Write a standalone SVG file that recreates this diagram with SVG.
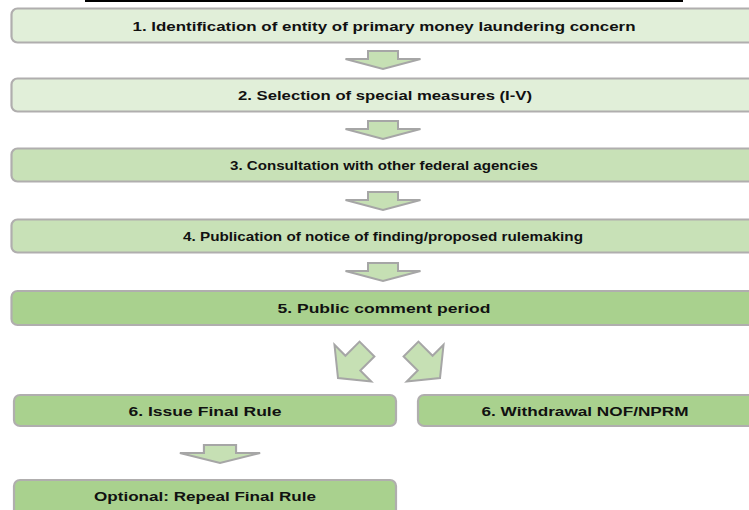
<svg xmlns="http://www.w3.org/2000/svg" width="749" height="510" viewBox="0 0 749 510">
<style>
.box{stroke:#b0aeae;stroke-width:2.2}
.l1{fill:#e1efd9}
.l2{fill:#c8e1b7}
.l3{fill:#a9d18e}
.arr{fill:#c6e0b4;stroke:#a6a6a6;stroke-width:2;stroke-linejoin:miter}
text{font-family:"Liberation Sans",Arial,sans-serif;font-weight:bold;font-size:13.5px;fill:#111;text-anchor:middle}
</style>
<defs>
<path id="down" d="M-15,-18 L15,-18 L15,-10 L37.5,-10 L0,0 L-37.5,-10 L-15,-10 Z"/>
<path id="diag" d="M-10.5,-41 L10.5,-41 L10.5,-21 L26,-21 L0,0 L-26,-21 L-10.5,-21 Z"/>
</defs>
<line x1="85" y1="1" x2="683" y2="1" stroke="#000" stroke-width="2"/>
<g id="connectors">
<use href="#down" class="arr" transform="translate(383,69)"/>
<use href="#down" class="arr" transform="translate(383,139)"/>
<use href="#down" class="arr" transform="translate(383,210)"/>
<use href="#down" class="arr" transform="translate(383,281)"/>
<use href="#diag" class="arr" transform="translate(338,378) rotate(45)"/>
<use href="#diag" class="arr" transform="translate(440,378) rotate(-45)"/>
<use href="#down" class="arr" transform="translate(220,463) scale(1.07,1)"/>
</g>
<g id="n1"><rect class="box l1" x="11.5" y="8.5" width="750" height="34" rx="6"/><text x="384" y="30.5" textLength="503" lengthAdjust="spacingAndGlyphs">1. Identification of entity of primary money laundering concern</text></g>
<g id="n2"><rect class="box l1" x="11.5" y="78.5" width="750" height="33" rx="6"/><text x="385" y="100" textLength="294" lengthAdjust="spacingAndGlyphs">2. Selection of special measures (I-V)</text></g>
<g id="n3"><rect class="box l2" x="11.5" y="148.5" width="750" height="33" rx="6"/><text x="384" y="170" textLength="308" lengthAdjust="spacingAndGlyphs">3. Consultation with other federal agencies</text></g>
<g id="n4"><rect class="box l2" x="11.5" y="219.5" width="750" height="33" rx="6"/><text x="383" y="241" textLength="400" lengthAdjust="spacingAndGlyphs">4. Publication of notice of finding/proposed rulemaking</text></g>
<g id="n5"><rect class="box l3" x="11.5" y="291" width="750" height="34" rx="6"/><text x="384" y="312.5" textLength="213" lengthAdjust="spacingAndGlyphs">5. Public comment period</text></g>
<g id="n6a"><rect class="box l3" x="14" y="395" width="382" height="31" rx="6"/><text x="205" y="415.5" textLength="153" lengthAdjust="spacingAndGlyphs">6. Issue Final Rule</text></g>
<g id="n6b"><rect class="box l3" x="418" y="395" width="340" height="31" rx="6"/><text x="585" y="415.5" textLength="207" lengthAdjust="spacingAndGlyphs">6. Withdrawal NOF/NPRM</text></g>
<g id="n7"><rect class="box l3" x="14" y="480" width="382" height="40" rx="6"/><text x="205" y="501" textLength="222" lengthAdjust="spacingAndGlyphs">Optional: Repeal Final Rule</text></g>
</svg>
